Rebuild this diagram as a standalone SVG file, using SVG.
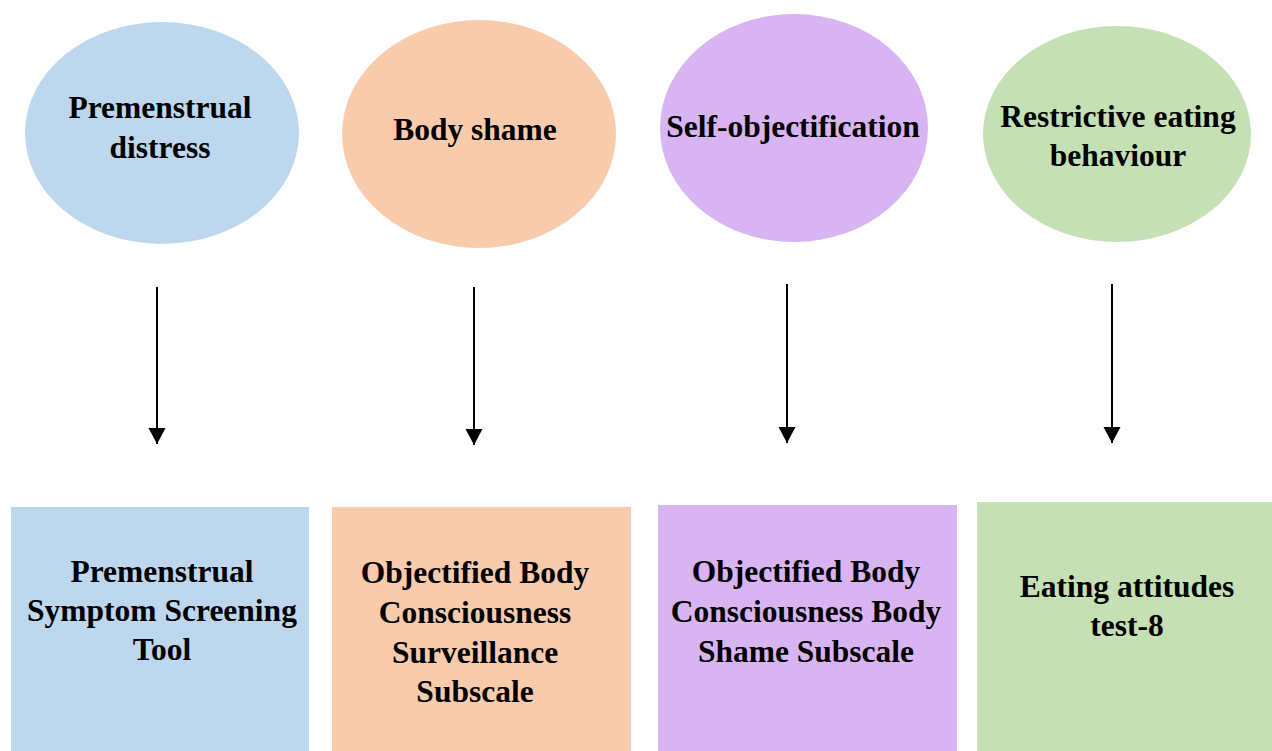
<svg xmlns="http://www.w3.org/2000/svg" width="1272" height="751" viewBox="0 0 1272 751">
<style>
text{font-family:"Liberation Serif","Times New Roman",serif;font-weight:bold;font-size:31.5px;fill:#000;text-anchor:middle}
.blue{fill:#BDD7EE}.orange{fill:#F8CBAD}.purple{fill:#D8B4F2}.green{fill:#C5E0B4}
.conn line{stroke:#000;stroke-width:2}
</style>
<defs>
<marker id="ah" markerWidth="9" markerHeight="9" refX="8" refY="4.25" orient="auto" markerUnits="strokeWidth">
<path d="M0,0 L8,4.25 L0,8.5 z" fill="#000"/>
</marker>
</defs>
<rect width="1272" height="751" fill="#fff"/>
<g id="n1"><ellipse class="blue" cx="162" cy="133" rx="137" ry="111"/><text x="160" y="118">Premenstrual</text><text x="160" y="158">distress</text></g>
<g id="n2"><ellipse class="orange" cx="479" cy="134" rx="137" ry="114"/><text x="475" y="140">Body shame</text></g>
<g id="n3"><ellipse class="purple" cx="794" cy="128" rx="134" ry="114"/><text x="793" y="137">Self-objectification</text></g>
<g id="n4"><ellipse class="green" cx="1117" cy="134" rx="134" ry="108"/><text x="1118" y="127">Restrictive eating</text><text x="1118" y="166">behaviour</text></g>
<g id="r1"><rect class="blue" x="11" y="507" width="298" height="244"/><text x="162" y="582">Premenstrual</text><text x="162" y="621">Symptom Screening</text><text x="162" y="660">Tool</text></g>
<g id="r2"><rect class="orange" x="332" y="507" width="299" height="244"/><text x="475" y="583">Objectified Body</text><text x="475" y="623">Consciousness</text><text x="475" y="663">Surveillance</text><text x="475" y="702">Subscale</text></g>
<g id="r3"><rect class="purple" x="658" y="505" width="299" height="246"/><text x="806" y="582">Objectified Body</text><text x="806" y="622">Consciousness Body</text><text x="806" y="662">Shame Subscale</text></g>
<g id="r4"><rect class="green" x="977" y="502" width="295" height="249"/><text x="1127" y="597">Eating attitudes</text><text x="1127" y="636">test-8</text></g>
<g id="connectors" class="conn">
<line x1="157" y1="287" x2="157" y2="444" marker-end="url(#ah)"/>
<line x1="474" y1="287" x2="474" y2="445" marker-end="url(#ah)"/>
<line x1="787" y1="284" x2="787" y2="443" marker-end="url(#ah)"/>
<line x1="1112" y1="284" x2="1112" y2="443" marker-end="url(#ah)"/>
</g>
</svg>
